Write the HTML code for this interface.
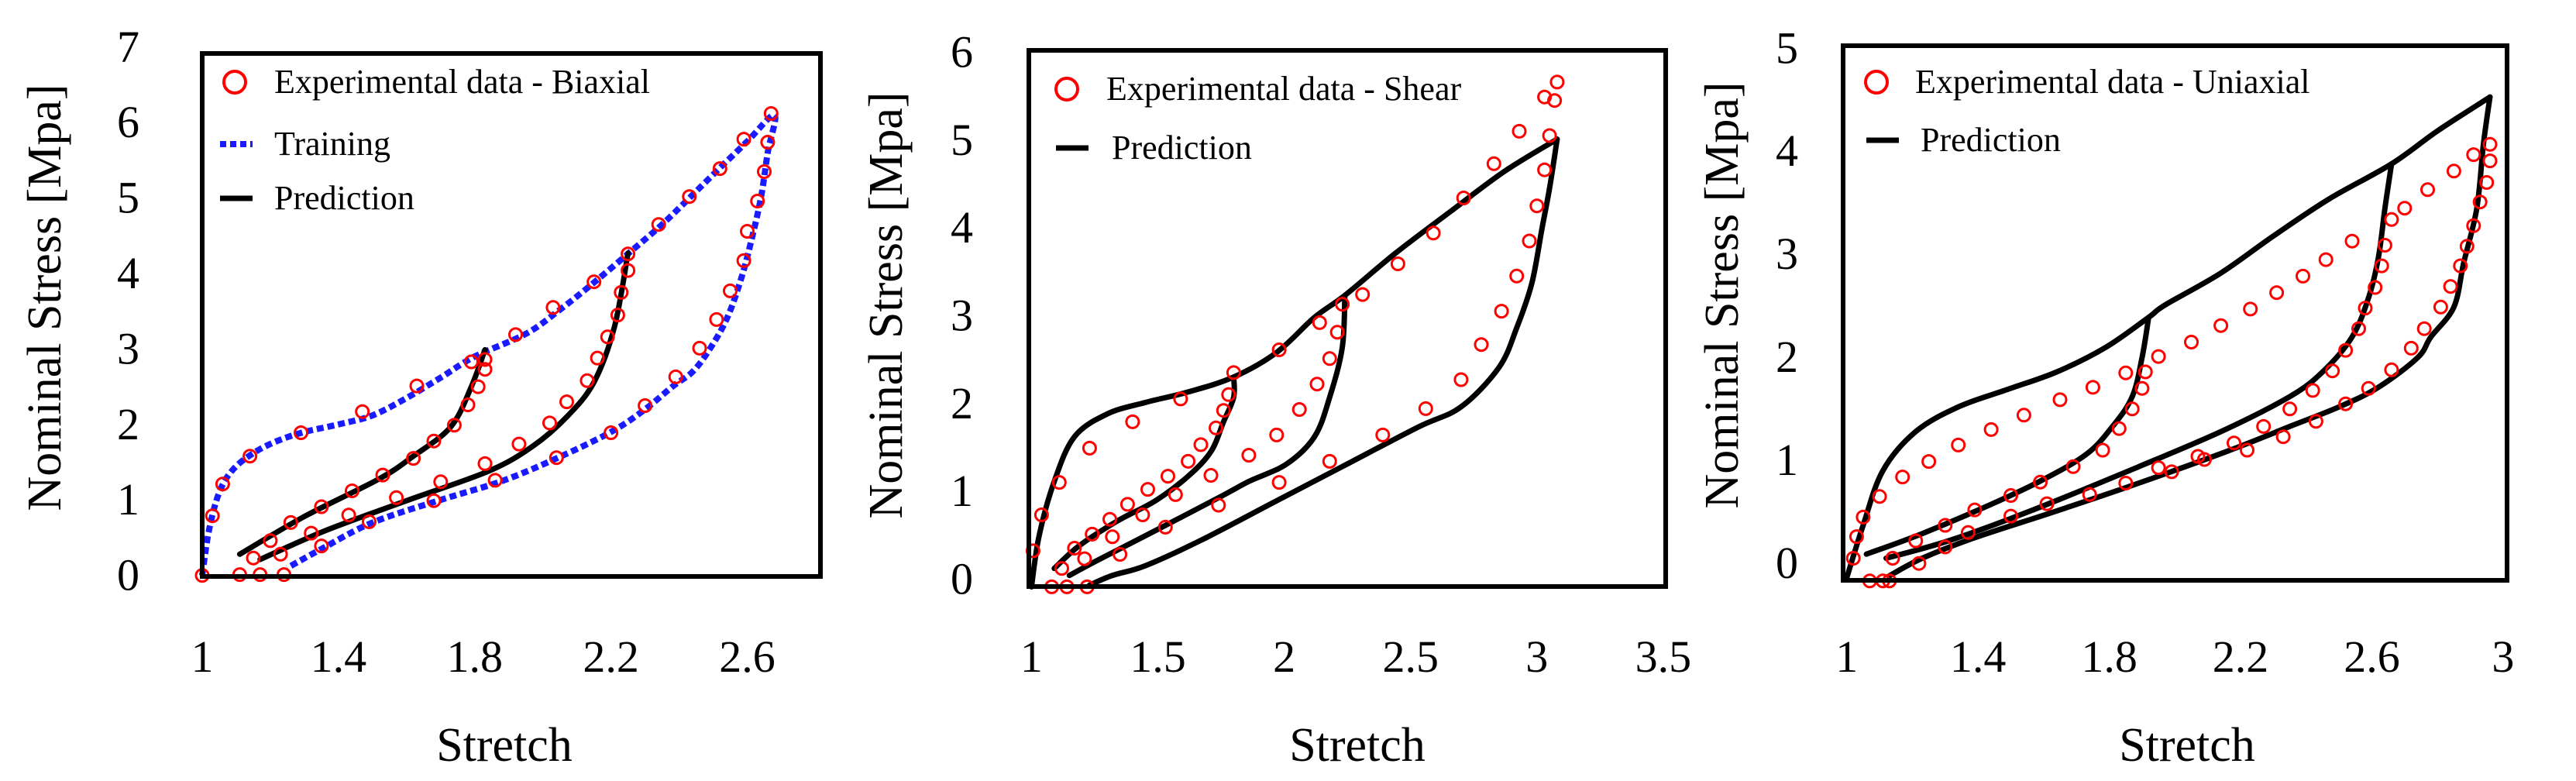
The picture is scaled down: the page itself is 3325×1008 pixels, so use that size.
<!DOCTYPE html>
<html><head><meta charset="utf-8">
<style>
html,body{margin:0;padding:0;background:#fff;}
svg, svg text{font-family:"Liberation Serif","Times New Roman",serif;}
</style></head>
<body>
<svg id="fig" width="3325" height="1003" viewBox="0 0 3325 1003" xmlns="http://www.w3.org/2000/svg" font-family="Liberation Serif, serif"></svg>
<script>
// ---- Chart 1: Biaxial ----
const c1ExpX=[1.00,1.03,1.06,1.14,1.29,1.47,1.63,1.79,1.92,2.03,2.15,2.25,2.34,2.43,2.52,2.59,2.67,2.66,2.65,2.63,2.60,2.59,2.55,2.51,2.46,2.39,2.30,2.20,2.04,1.86,1.68,1.49,1.35,1.24,2.25,2.23,2.22,2.19,2.16,2.13,2.07,2.02,1.93,1.83,1.70,1.57,1.43,1.32,1.20,1.15,1.17,1.83,1.83,1.81,1.78,1.74,1.68,1.62,1.53,1.44,1.35,1.26,1.23,1.11];
const c1ExpY=[0.00,0.79,1.21,1.58,1.89,2.17,2.51,2.83,3.19,3.55,3.89,4.26,4.65,5.02,5.39,5.78,6.12,5.74,5.35,4.96,4.56,4.17,3.77,3.39,3.01,2.63,2.25,1.89,1.56,1.26,0.99,0.71,0.39,0.01,4.04,3.75,3.45,3.16,2.88,2.58,2.30,2.02,1.74,1.48,1.24,1.03,0.80,0.56,0.46,0.23,0.01,2.86,2.73,2.50,2.26,1.99,1.78,1.55,1.33,1.12,0.91,0.70,0.28,0.01];
const c1TrainX=[1.00,1.02,1.05,1.09,1.15,1.22,1.30,1.40,1.50,1.60,1.70,1.80,1.95,2.05,2.15,2.26,2.35,2.43,2.52,2.60,2.68,2.66,2.64,2.61,2.58,2.54,2.49,2.44,2.38,2.30,2.20,2.04,1.88,1.70,1.50,1.35,1.25];
const c1TrainY=[0.00,0.60,1.10,1.40,1.62,1.78,1.90,2.00,2.12,2.35,2.62,2.90,3.20,3.52,3.88,4.30,4.65,5.00,5.40,5.75,6.10,5.60,5.00,4.40,3.90,3.40,3.00,2.70,2.50,2.20,1.90,1.55,1.25,1.00,0.70,0.35,0.10];
const c1P1X=[1.11,1.30,1.52,1.62,1.73,1.79,1.83];
const c1P1Y=[0.28,0.78,1.28,1.58,1.97,2.50,2.99];
const c1P2X=[1.17,1.36,1.60,1.84,1.97,2.07,2.15,2.21,2.25];
const c1P2Y=[0.21,0.59,0.99,1.38,1.71,2.10,2.56,3.29,4.27];
const c1YTicks=[0,1,2,3,4,5,6,7];
const c1XTicks=[1,1.4,1.8,2.2,2.6];
const c1XLabels=["1","1.4","1.8","2.2","2.6"];

// ---- Chart 2: Shear ----
const c2ExpX=[1.006,1.04,1.11,1.23,1.40,1.59,1.80,1.98,2.14,2.31,2.45,2.59,2.71,2.83,2.93,3.03,3.08,3.07,3.05,3.03,3.00,2.97,2.92,2.86,2.78,2.70,2.56,2.39,2.18,1.98,1.74,1.53,1.35,1.22,2.23,2.21,2.18,2.13,2.06,1.97,1.86,1.71,1.57,1.44,1.32,1.21,1.14,1.78,1.76,1.73,1.67,1.62,1.54,1.46,1.38,1.31,1.24,1.17,1.12,1.08];
const c2ExpY=[0.41,0.82,1.19,1.58,1.88,2.14,2.44,2.70,3.01,3.33,3.68,4.03,4.43,4.82,5.19,5.58,5.75,5.54,5.14,4.75,4.34,3.94,3.54,3.14,2.76,2.36,2.03,1.73,1.43,1.19,0.93,0.68,0.37,0.00,3.22,2.90,2.60,2.31,2.02,1.73,1.50,1.27,1.05,0.82,0.57,0.32,0.00,2.19,2.01,1.81,1.62,1.43,1.26,1.11,0.94,0.77,0.60,0.44,0.21,0.00];
const c2UpX=[1.00,1.03,1.09,1.17,1.30,1.45,1.62,1.80,1.97,2.12,2.24,2.44,2.66,2.87,3.08];
const c2UpY=[0.00,0.58,1.20,1.71,1.97,2.10,2.22,2.39,2.67,3.07,3.32,3.80,4.28,4.73,5.10];
const c2UnX=[3.08,3.05,3.02,2.98,2.92,2.85,2.70,2.53,2.23,1.97,1.67,1.45,1.32,1.23];
const c2UnY=[5.10,4.54,4.08,3.46,2.95,2.50,2.05,1.82,1.37,0.98,0.53,0.24,0.13,0.02];
const c2C2X=[2.24,2.23,2.18,2.12,2.01,1.86,1.75,1.49,1.26,1.15];
const c2C2Y=[3.32,2.73,2.16,1.71,1.40,1.20,1.03,0.64,0.30,0.13];
const c2C1X=[1.80,1.80,1.76,1.71,1.62,1.49,1.34,1.19,1.09];
const c2C1Y=[2.39,2.16,1.88,1.54,1.26,0.98,0.75,0.47,0.21];
const c2YTicks=[0,1,2,3,4,5,6];
const c2XTicks=[1,1.5,2,2.5,3,3.5];
const c2XLabels=["1","1.5","2","2.5","3","3.5"];

// ---- Chart 3: Uniaxial ----
const c3ExpX=[1.02,1.03,1.05,1.10,1.17,1.25,1.34,1.44,1.54,1.65,1.75,1.85,1.95,2.05,2.14,2.23,2.31,2.39,2.46,2.54,2.70,2.77,2.85,2.91,2.96,2.96,2.95,2.93,2.91,2.89,2.87,2.84,2.81,2.76,2.72,2.66,2.59,2.52,2.43,2.33,2.22,2.18,2.09,2.07,1.99,1.95,1.85,1.74,1.61,1.50,1.37,1.30,1.22,1.14,1.13,1.11,1.07,2.66,2.64,2.63,2.61,2.58,2.56,2.52,2.48,2.42,2.35,2.27,1.59,1.50,1.39,1.30,1.21,1.69,1.91,1.90,1.87,1.83,1.78];
const c3ExpY=[0.19,0.40,0.59,0.79,0.98,1.13,1.29,1.44,1.58,1.73,1.85,1.99,2.15,2.29,2.45,2.61,2.77,2.93,3.09,3.27,3.59,3.77,3.95,4.11,4.21,4.05,3.84,3.65,3.42,3.22,3.03,2.83,2.63,2.42,2.23,2.02,1.84,1.69,1.52,1.37,1.24,1.31,1.15,1.18,1.03,1.07,0.92,0.81,0.72,0.60,0.44,0.30,0.14,0.19,-0.03,-0.03,-0.03,3.48,3.23,3.03,2.82,2.62,2.42,2.21,2.01,1.82,1.64,1.47,0.93,0.80,0.66,0.51,0.36,1.08,2.00,1.84,1.64,1.45,1.24];
const c3UpX=[1.00,1.05,1.11,1.21,1.34,1.49,1.64,1.79,1.92,1.97,2.14,2.30,2.47,2.66,2.80,2.96];
const c3UpY=[0.00,0.51,1.04,1.42,1.66,1.83,2.00,2.24,2.53,2.65,2.96,3.32,3.68,4.02,4.34,4.67];
const c3UnX=[2.96,2.94,2.92,2.88,2.85,2.78,2.74,2.62,2.50,2.35,2.16,1.89,1.64,1.39,1.23,1.13];
const c3UnY=[4.67,4.21,3.59,3.06,2.63,2.34,2.14,1.85,1.66,1.47,1.23,0.92,0.65,0.39,0.19,0.02];
const c3C2X=[2.66,2.64,2.62,2.59,2.54,2.45,2.35,2.14,1.89,1.56,1.31,1.12];
const c3C2Y=[4.02,3.59,3.11,2.72,2.34,2.00,1.76,1.42,1.08,0.65,0.36,0.19];
const c3C1X=[1.92,1.90,1.87,1.81,1.73,1.59,1.43,1.23,1.06];
const c3C1Y=[2.53,2.14,1.76,1.47,1.20,0.94,0.70,0.43,0.23];
const c3YTicks=[0,1,2,3,4,5];
const c3XTicks=[1,1.4,1.8,2.2,2.6,3];
const c3XLabels=["1","1.4","1.8","2.2","2.6","3"];

const NS="http://www.w3.org/2000/svg";
const FONT="Liberation Serif, Times New Roman, serif";
const svg=document.getElementById('fig');
function mk(tag,attrs,parent){const e=document.createElementNS(NS,tag);for(const k in attrs)e.setAttribute(k,attrs[k]);(parent||svg).appendChild(e);return e;}
function txt(s,attrs,parent){attrs['font-family']=FONT;const e=mk('text',attrs,parent);e.textContent=s;return e;}
function smooth(P){
  let d='M'+P[0][0].toFixed(1)+','+P[0][1].toFixed(1);
  for(let i=0;i<P.length-1;i++){
    const p0=P[i-1]||P[i],p1=P[i],p2=P[i+1],p3=P[i+2]||P[i+1];
    const t=0.5/3;
    const c1=[p1[0]+(p2[0]-p0[0])*t,p1[1]+(p2[1]-p0[1])*t];
    const c2=[p2[0]-(p3[0]-p1[0])*t,p2[1]-(p3[1]-p1[1])*t];
    d+=' C'+c1[0].toFixed(1)+','+c1[1].toFixed(1)+' '+c2[0].toFixed(1)+','+c2[1].toFixed(1)+' '+p2[0].toFixed(1)+','+p2[1].toFixed(1);
  }
  return d;
}

function makeChart(cfg){
  const g=mk('g',{});
  
  
  const sx=v=>cfg.x0+(v-1)*cfg.xu;
  const sy=v=>cfg.y0-v*cfg.yu;
  cfg.lines.forEach(L=>{
    const P=L.x.map((v,i)=>[sx(v),sy(L.y[i])]);
    const p=mk('path',{d:smooth(P),fill:'none',stroke:L.color,'stroke-width':L.w,'stroke-linejoin':'round','stroke-linecap':L.dash?'butt':'round'},g);
    if(L.dash)p.setAttribute('stroke-dasharray',L.dash);
    
    
  });
  const pts=mk('g',{},g);
  
  
  cfg.ex.forEach((v,i)=>{
    const c=mk('circle',{cx:sx(v).toFixed(1),cy:sy(cfg.ey[i]).toFixed(1),r:8,fill:'none',stroke:'#ff0000','stroke-width':3},pts);
    
    
  });
  const b=mk('rect',{x:cfg.box[0],y:cfg.box[2],width:cfg.box[1]-cfg.box[0],height:cfg.box[3]-cfg.box[2],fill:'none',stroke:'#000','stroke-width':6},g);
  
  
  cfg.yt.forEach(v=>{
    const t=txt(String(v),{x:cfg.ylx,y:(sy(v)+cfg.ylOff+19).toFixed(1),'text-anchor':'end','font-size':58,fill:'#000'},g);
    
    
  });
  cfg.xt.forEach((v,i)=>{
    const t=txt(cfg.xl[i],{x:sx(v).toFixed(1),y:867,'text-anchor':'middle','font-size':58,fill:'#000'},g);
    
    
  });
  const xt=txt('Stretch',{x:cfg.xTitleX,y:982,'text-anchor':'middle','font-size':62,fill:'#000'},g);
  
  
  const yt=txt('Nominal Stress [Mpa]',{x:0,y:0,'text-anchor':'middle','font-size':62,fill:'#000',transform:`translate(${cfg.yTitleX},${cfg.yTitleY}) rotate(-90)`},g);
  
  
  const lg=mk('g',{},g);
  
  
  cfg.legend.forEach(it=>{
    const e=mk('g',{},lg);
    
    
    if(it.type==='circle'){
      mk('circle',{cx:it.mx,cy:it.y,r:14,fill:'none',stroke:'#ff0000','stroke-width':4},e);
    }else{
      const l=mk('line',{x1:it.mx-21,x2:it.mx+21,y1:it.y,y2:it.y,stroke:it.color,'stroke-width':it.dash?8:7},e);
      if(it.dash)l.setAttribute('stroke-dasharray',it.dash);
    }
    txt(it.label,{x:it.tx,y:it.y+14,'font-size':44,fill:'#000'},e);
  });
}

makeChart({name:'biaxial-chart',x0:261,xu:439.7,y0:742.6,yu:97.4,box:[261,1059,69,744],
  ex:c1ExpX,ey:c1ExpY,yt:c1YTicks,xt:c1XTicks,xl:c1XLabels,ylx:180,ylOff:0,
  xTitleX:651,yTitleX:78,yTitleY:384,
  lines:[{x:c1TrainX,y:c1TrainY,color:'#1a1aff',w:8,dash:'9 5',name:'training-line'},
         {x:c1P1X,y:c1P1Y,color:'#000',w:7,name:'prediction-cycle-1'},
         {x:c1P2X,y:c1P2Y,color:'#000',w:7,name:'prediction-cycle-2'}],
  legend:[{type:'circle',mx:303,y:106,tx:354,label:'Experimental data - Biaxial'},
          {type:'line',mx:305,y:186,tx:354,color:'#1a1aff',dash:'8 5',label:'Training'},
          {type:'line',mx:305,y:256,tx:354,color:'#000',label:'Prediction'}]});

makeChart({name:'shear-chart',x0:1331.4,xu:326.2,y0:757.4,yu:113.3,box:[1328,2150,65,757],
  ex:c2ExpX,ey:c2ExpY,yt:c2YTicks,xt:c2XTicks,xl:c2XLabels,ylx:1256,ylOff:-10,
  xTitleX:1752,yTitleX:1164,yTitleY:394,
  lines:[{x:c2UpX,y:c2UpY,color:'#000',w:7,name:'prediction-loading'},
         {x:c2UnX,y:c2UnY,color:'#000',w:7,name:'prediction-unloading'},
         {x:c2C2X,y:c2C2Y,color:'#000',w:7,name:'prediction-cycle-2'},
         {x:c2C1X,y:c2C1Y,color:'#000',w:7,name:'prediction-cycle-1'}],
  legend:[{type:'circle',mx:1377,y:115,tx:1428,label:'Experimental data - Shear'},
          {type:'line',mx:1384,y:191,tx:1435,color:'#000',label:'Prediction'}]});

makeChart({name:'uniaxial-chart',x0:2383.7,xu:423.6,y0:745.8,yu:132.9,box:[2379,3236,59,749],
  ex:c3ExpX,ey:c3ExpY,yt:c3YTicks,xt:c3XTicks,xl:c3XLabels,ylx:2321,ylOff:-19,
  xTitleX:2823,yTitleX:2243,yTitleY:381,
  lines:[{x:c3UpX,y:c3UpY,color:'#000',w:7,name:'prediction-loading'},
         {x:c3UnX,y:c3UnY,color:'#000',w:7,name:'prediction-unloading'},
         {x:c3C2X,y:c3C2Y,color:'#000',w:7,name:'prediction-cycle-2'},
         {x:c3C1X,y:c3C1Y,color:'#000',w:7,name:'prediction-cycle-1'}],
  legend:[{type:'circle',mx:2422,y:106,tx:2472,label:'Experimental data - Uniaxial'},
          {type:'line',mx:2430,y:181,tx:2479,color:'#000',label:'Prediction'}]});
</script>
</body></html>
